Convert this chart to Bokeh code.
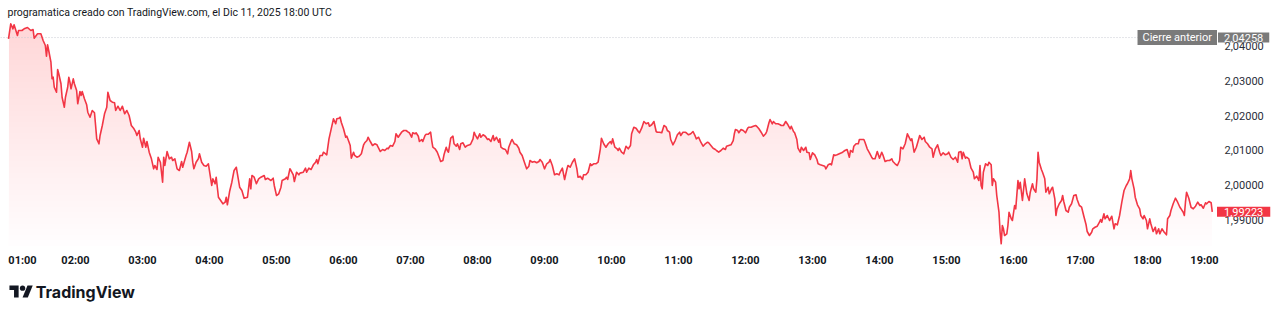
import numpy as np
from bokeh.plotting import figure
from bokeh.models import Range1d, FixedTicker, Label, CustomJSTickFormatter
from bokeh.layouts import column
from bokeh.embed import file_html
from bokeh.resources import INLINE
from bokeh.core.properties import value

# ---------------- data (minutes after 01:00, price) ----------------
seg_a_minutes = [
    0, 2, 4, 5, 8, 9, 12, 14, 17, 20,
    22, 23, 26, 29, 31, 33, 34, 35, 36, 38,
    39, 40, 41, 43, 44, 45, 47, 48, 50, 51,
    53, 54, 55, 56, 58, 59, 61, 62, 64, 65,
    66, 68, 70, 71, 73, 75, 77, 78, 79, 81,
    82, 84, 86, 88, 89, 91, 93, 95, 96, 98,
    100, 102, 104, 106, 108, 110, 112, 114, 115, 117,
    118, 120, 121, 123, 124, 126, 128, 130, 131, 133,
    134, 136, 138, 139, 140, 142, 144, 146, 147, 149,
    151, 153, 155, 156, 159, 160, 162, 164, 165, 166,
    168, 170, 171, 173, 175, 177, 179, 182, 183, 185,
    186, 188, 190, 192, 194, 195, 196, 198, 200, 202,
    204, 205, 207, 209, 211, 214, 216, 217, 218, 220,
    222, 224, 226, 229, 230, 232, 235, 237, 238, 240,
    242, 244, 245, 248, 249, 250, 252, 253, 255, 256,
    258, 260, 261]
seg_a_prices = [
    2.04222, 2.04656, 2.04511, 2.04627, 2.04318, 2.04462, 2.04462, 2.04511, 2.04549, 2.04462,
    2.04491, 2.04239, 2.04367, 2.04367, 2.04173, 2.04029, 2.03719, 2.04049, 2.03884, 2.03546,
    2.03066, 2.03112, 2.02823, 2.02679, 2.03335, 2.03211, 2.02922, 2.02534, 2.02245, 2.02534,
    2.02823, 2.03112, 2.02968, 2.02777, 2.03066, 2.02922, 2.02728, 2.02344, 2.02699, 2.02584,
    2.02699, 2.02488, 2.02315, 2.02101, 2.01956, 2.02150, 2.02084, 2.01717, 2.01332, 2.01188,
    2.01428, 2.01717, 2.02055, 2.02245, 2.02679, 2.02439, 2.02390, 2.02373, 2.02150, 2.02274,
    2.02150, 2.02274, 2.02055, 2.02150, 2.02006, 2.01717, 2.01639, 2.01523, 2.01428, 2.01572,
    2.01332, 2.01089, 2.01350, 2.01089, 2.01254, 2.00945, 2.00754, 2.00465, 2.00561, 2.00445,
    2.00800, 2.00656, 2.00078, 2.00800, 2.00561, 2.00965, 2.00754, 2.00800, 2.00705, 2.00754,
    2.00465, 2.00416, 2.00676, 2.00511, 2.00850, 2.00945, 2.01234, 2.00965, 2.00656, 2.00465,
    2.00656, 2.00754, 2.00899, 2.00656, 2.00561, 2.00540, 2.00610, 1.99983, 2.00176, 2.00032,
    2.00222, 1.99644, 1.99549, 1.99454, 1.99500, 1.99644, 1.99425, 1.99809, 2.00078, 2.00416,
    2.00511, 2.00321, 1.99933, 1.99838, 1.99616, 1.99644, 2.00176, 1.99887, 2.00272, 2.00222,
    2.00032, 2.00176, 2.00222, 2.00272, 2.00156, 2.00194, 2.00127, 2.00194, 1.99983, 1.99694,
    1.99743, 1.99933, 2.00127, 2.00176, 2.00222, 2.00156, 2.00465, 2.00416, 2.00292, 2.00098,
    2.00367, 2.00292, 2.00340]

seg_b_minutes = [
    264, 266, 267, 269, 271, 273, 275, 276, 277, 279,
    281, 282, 284, 285, 287, 289, 291, 293, 294, 296,
    297, 298, 300, 302, 303, 305, 306, 307, 309, 310,
    312, 314, 316, 318, 319, 321, 322, 324, 326, 328,
    330, 331, 333, 335, 337, 339, 340, 342, 344, 346,
    347, 349, 350, 352, 354, 356, 358, 359, 361, 362,
    364, 365, 367, 368, 370, 371, 373, 374, 376, 378,
    379, 380, 382, 384, 386, 387, 389, 390, 392, 393,
    394, 395, 396, 398, 399, 401, 402, 404, 405, 407,
    409, 411, 413, 414, 416, 417, 418, 420, 422, 423,
    425, 427, 429, 430, 432, 434, 435, 437, 439, 440,
    441, 443, 445, 447, 448, 450, 451, 453, 455, 457,
    458, 460, 462, 464, 466, 467, 469, 471, 473, 475,
    476, 478, 480, 482, 484, 485, 487, 489, 491, 493,
    494, 496, 498, 500, 501, 503, 505, 507, 509, 510,
    512, 514, 515, 517, 519, 521, 522, 524, 526, 528,
    530, 531]
seg_b_prices = [
    2.00367, 2.00483, 2.00367, 2.00483, 2.00445, 2.00581, 2.00656, 2.00734, 2.00610, 2.00850,
    2.00850, 2.00945, 2.00899, 2.00870, 2.01332, 2.01621, 2.01910, 2.01766, 2.01910, 2.01928,
    2.01956, 2.01812, 2.01621, 2.01378, 2.01407, 2.01234, 2.01139, 2.00772, 2.00945, 2.00850,
    2.00800, 2.00829, 2.00899, 2.01159, 2.01217, 2.01283, 2.01378, 2.01254, 2.01139, 2.01188,
    2.01159, 2.01089, 2.00965, 2.01023, 2.00994, 2.01061, 2.01043, 2.01139, 2.01118, 2.01254,
    2.01477, 2.01378, 2.01428, 2.01523, 2.01572, 2.01572, 2.01523, 2.01506, 2.01378, 2.01506,
    2.01477, 2.01506, 2.01407, 2.01254, 2.01312, 2.01254, 2.01428, 2.01465, 2.01465, 2.01523,
    2.01283, 2.01089, 2.01043, 2.00945, 2.00772, 2.00676, 2.00705, 2.00870, 2.01089, 2.00994,
    2.00945, 2.01139, 2.01350, 2.01407, 2.01188, 2.01118, 2.01188, 2.01023, 2.01188, 2.01217,
    2.01089, 2.01139, 2.01159, 2.01188, 2.01332, 2.01523, 2.01448, 2.01332, 2.01477, 2.01378,
    2.01448, 2.01407, 2.01312, 2.01332, 2.01254, 2.01428, 2.01283, 2.01378, 2.01234, 2.01332,
    2.01089, 2.01043, 2.01023, 2.00899, 2.01089, 2.01254, 2.01312, 2.01188, 2.01159, 2.01061,
    2.00945, 2.00850, 2.00656, 2.00465, 2.00540, 2.00705, 2.00656, 2.00676, 2.00639, 2.00676,
    2.00734, 2.00656, 2.00465, 2.00610, 2.00656, 2.00734, 2.00561, 2.00292, 2.00321, 2.00292,
    2.00367, 2.00483, 2.00156, 2.00445, 2.00561, 2.00511, 2.00656, 2.00754, 2.00465, 2.00222,
    2.00251, 2.00156, 2.00292, 2.00292, 2.00367, 2.00610, 2.00561, 2.00610, 2.00610, 2.00656,
    2.01043, 2.01350]

seg_c_minutes = [
    533, 535, 537, 539, 540, 541, 543, 545, 546, 547,
    549, 551, 553, 555, 557, 558, 560, 562, 564, 565,
    567, 569, 571, 573, 574, 576, 578, 580, 581, 583,
    585, 587, 589, 590, 592, 593, 595, 597, 599, 601,
    602, 604, 606, 607, 609, 611, 613, 615, 616, 618,
    620, 622, 624, 626, 627, 629, 631, 633, 634, 636,
    638, 640, 642, 643, 645, 647, 649, 650, 651, 653,
    654, 656, 658, 660, 662, 663, 665, 667, 669, 670,
    672, 674, 676, 678, 679, 681, 682, 684, 685, 687,
    689, 691, 692, 694, 696, 698, 700, 701, 703, 704,
    706, 707, 709, 710, 712, 714, 715, 717, 718, 720,
    722, 724, 725, 727, 729, 731, 732, 734, 736, 737,
    739, 740, 742, 744, 746, 747, 749, 751, 753, 754,
    756, 757, 759, 761, 762, 764, 766, 767, 769, 771,
    773, 774, 776, 778, 780, 782, 783, 785, 787, 789,
    791, 792, 794, 796, 798]
seg_c_prices = [
    2.01188, 2.01089, 2.01188, 2.01254, 2.01188, 2.01332, 2.01089, 2.01043, 2.00994, 2.01061,
    2.00945, 2.00899, 2.01118, 2.01043, 2.01139, 2.01477, 2.01667, 2.01639, 2.01543, 2.01506,
    2.01639, 2.01832, 2.01766, 2.01795, 2.01696, 2.01737, 2.01832, 2.01543, 2.01523, 2.01523,
    2.01506, 2.01717, 2.01667, 2.01572, 2.01523, 2.01312, 2.01159, 2.01283, 2.01448, 2.01523,
    2.01428, 2.01523, 2.01523, 2.01506, 2.01448, 2.01477, 2.01543, 2.01407, 2.01332, 2.01378,
    2.01234, 2.01118, 2.01188, 2.01234, 2.01217, 2.01139, 2.01061, 2.01023, 2.00994, 2.00945,
    2.00994, 2.01061, 2.01023, 2.01118, 2.01139, 2.01159, 2.01283, 2.01477, 2.01601, 2.01572,
    2.01506, 2.01601, 2.01572, 2.01506, 2.01639, 2.01667, 2.01667, 2.01696, 2.01717, 2.01696,
    2.01621, 2.01523, 2.01407, 2.01477, 2.01543, 2.01795, 2.01890, 2.01766, 2.01832, 2.01766,
    2.01766, 2.01737, 2.01717, 2.01717, 2.01832, 2.01737, 2.01621, 2.01696, 2.01543, 2.01506,
    2.01312, 2.01061, 2.00945, 2.01089, 2.00994, 2.01089, 2.00945, 2.00928, 2.00734, 2.00928,
    2.00870, 2.00734, 2.00610, 2.00581, 2.00561, 2.00540, 2.00465, 2.00581, 2.00610, 2.00581,
    2.00870, 2.00850, 2.00870, 2.00899, 2.00928, 2.00945, 2.00994, 2.01023, 2.00800, 2.00994,
    2.00945, 2.01118, 2.01188, 2.01188, 2.01312, 2.01312, 2.01312, 2.01234, 2.01043, 2.00928,
    2.00800, 2.00754, 2.00754, 2.00965, 2.00772, 2.00945, 2.00870, 2.00676, 2.00705, 2.00705,
    2.00754, 2.00676, 2.00610, 2.00561, 2.00705]

seg_d_minutes = [
    799, 801, 803, 805, 806, 808, 809, 811, 813, 815,
    816, 818, 820, 821, 823, 825, 827, 828, 830, 832,
    834, 835, 837, 839, 841, 842, 844, 846, 848, 850,
    851, 853, 854, 855, 857, 858, 860, 862, 864, 865,
    867, 869, 870, 871, 872, 873, 875, 877, 878, 880,
    881, 882, 884, 885, 887, 888, 889, 890, 891, 892,
    894, 895, 896, 898, 899, 901, 902, 904, 905, 906,
    908, 910, 912, 914, 915, 917, 918, 920, 921, 922,
    923, 925, 926, 928, 929, 931, 932, 934, 935, 937,
    938, 939, 941, 943, 944, 945, 947, 949, 950, 952,
    954, 956, 957, 959, 961, 963, 965, 966, 968, 970,
    971, 973, 975, 977, 978, 979, 981, 982, 984, 986,
    988, 990, 991, 993, 995, 997, 999, 1001, 1002, 1004,
    1005, 1006, 1008, 1009, 1011, 1013, 1014, 1016, 1017, 1019,
    1020, 1022, 1023, 1025, 1027, 1028, 1030, 1031, 1033, 1035,
    1037, 1038, 1040, 1041, 1043, 1045, 1047, 1049, 1050, 1052,
    1053, 1054, 1055, 1057, 1059, 1061, 1063, 1065, 1067, 1068,
    1070, 1072, 1073, 1075, 1077, 1078]
seg_d_prices = [
    2.01089, 2.01043, 2.01188, 2.01477, 2.01407, 2.01283, 2.01332, 2.00945, 2.01089, 2.01312,
    2.01428, 2.01312, 2.01378, 2.01254, 2.01188, 2.01089, 2.01043, 2.00800, 2.01043, 2.01159,
    2.00928, 2.00850, 2.00928, 2.00870, 2.00899, 2.00945, 2.00800, 2.00734, 2.00800, 2.00656,
    2.00945, 2.00965, 2.00754, 2.00945, 2.00772, 2.00800, 2.00754, 2.00483, 2.00367, 2.00176,
    2.00251, 2.00127, 2.00561, 1.99983, 1.99887, 2.00367, 2.00610, 2.00561, 2.00656, 2.00581,
    1.99983, 2.00176, 2.00078, 1.99694, 1.99211, 1.98633, 1.98298, 1.98827, 1.98731, 1.98538,
    1.98587, 1.98827, 1.99211, 1.99020, 1.98971, 1.99405, 1.99309, 2.00127, 1.99887, 2.00078,
    1.99549, 2.00176, 1.99743, 1.99549, 1.99789, 2.00032, 1.99887, 1.99789, 2.00176, 2.00945,
    2.00656, 2.00445, 2.00367, 2.00176, 1.99789, 1.99933, 1.99743, 1.99887, 1.99933, 1.99598,
    1.99116, 1.99309, 1.99454, 1.99549, 1.99694, 1.99520, 1.99260, 1.99211, 1.99355, 1.99454,
    1.99694, 1.99714, 1.99578, 1.99405, 1.99355, 1.99095, 1.98847, 1.98653, 1.98538, 1.98633,
    1.98731, 1.98777, 1.98806, 1.98922, 1.99000, 1.98922, 1.99165, 1.99020, 1.99116, 1.98971,
    1.99095, 1.98731, 1.98876, 1.98847, 1.99116, 1.99500, 1.99838, 1.99983, 2.00032, 2.00176,
    2.00416, 2.00176, 1.99887, 1.99644, 1.99425, 1.99309, 1.99116, 1.99020, 1.99116, 1.98971,
    1.98731, 1.99020, 1.98876, 1.98653, 1.98777, 1.98587, 1.98731, 1.98587, 1.98731, 1.98633,
    1.98558, 1.99020, 1.99116, 1.99260, 1.99454, 1.99616, 1.99500, 1.99355, 1.99309, 1.99211,
    1.99116, 1.99500, 1.99789, 1.99616, 1.99355, 1.99309, 1.99384, 1.99500, 1.99405, 1.99425,
    1.99327, 1.99483, 1.99454, 1.99520, 1.99483, 1.99223]

previous_close = 2.04258
hour_labels = ["01:00", "02:00", "03:00", "04:00", "05:00", "06:00", "07:00", "08:00", "09:00",
               "10:00", "11:00", "12:00", "13:00", "14:00", "15:00", "16:00", "17:00", "18:00", "19:00"]
hour_minutes = [60 * i for i in range(len(hour_labels))]
price_ticks = [1.99, 2.00, 2.01, 2.02, 2.03, 2.04]
title_text = "programatica creado con TradingView.com, el Dic 11, 2025 18:00 UTC"
prev_close_label = "Cierre anterior"


def join(ms, ps):
    n = min(len(ms), len(ps))
    if len(ms) != len(ps):
        print("length mismatch", len(ms), len(ps))
    return list(ms[:n]), list(ps[:n])


minutes, prices = [], []
for ms, ps in [(seg_a_minutes, seg_a_prices), (seg_b_minutes, seg_b_prices),
               (seg_c_minutes, seg_c_prices), (seg_d_minutes, seg_d_prices)]:
    m2, p2 = join(ms, ps)
    minutes += m2
    prices += p2
minutes = np.array(minutes, dtype=float)
prices = np.array(prices, dtype=float)
last_price = prices[-1]


def fmt_price(v):
    return f"{v:.5f}".replace(".", ",")


# ---------------- layout constants ----------------
W, H_MAIN, H_FOOT = 1280, 276, 38
FRAME_W = 1272          # pane + price scale share the frame
PANE_W = 1220           # where the time pane ends and the price scale begins
PX_PER_MIN = 67.0 / 60.0
X_START = -8.0 / PX_PER_MIN
X_END = X_START + FRAME_W / PX_PER_MIN
Y_LO, Y_HI = 1.98220, 2.04751


def px_to_min(px):
    return X_START + px / PX_PER_MIN


LINE_COLOR = "#F23645"
TEXT_COLOR = "#131722"
FONT = "Roboto"

p = figure(width=W, height=H_MAIN, output_backend="svg", toolbar_location=None,
           x_range=Range1d(X_START, X_END), y_range=Range1d(Y_LO, Y_HI),
           min_border_left=0, min_border_right=W - FRAME_W, min_border_top=20, min_border_bottom=30,
           background_fill_color="white", border_fill_color="white", outline_line_color=None)
p.grid.visible = False
p.yaxis.visible = False

p.title.text = title_text
p.title.text_font = FONT
p.title.text_font_size = "10.5px"
p.title.text_font_style = "normal"
p.title.text_color = TEXT_COLOR
p.title.offset = 7
p.title.standoff = 4

# gradient area: stacked translucent layers, stronger towards the top
n_layers = 40
levels = np.linspace(Y_LO, Y_HI, n_layers + 1)
p.varea(x=minutes, y1=Y_LO, y2=prices, fill_color=LINE_COLOR, fill_alpha=0.008)
for lv in levels[1:-1]:
    p.varea(x=minutes, y1=lv, y2=np.maximum(prices, lv), fill_color=LINE_COLOR, fill_alpha=0.0045)

# previous close dotted line across the time pane
p.segment(x0=[X_START], x1=[px_to_min(PANE_W)], y0=[previous_close], y1=[previous_close],
          line_color="#C8CBD2", line_dash="1 2", line_width=1)

p.line(minutes, prices, line_color=LINE_COLOR, line_width=1.6, line_join="round")

# x axis (time)
half_lab = 14.0 / PX_PER_MIN
tick_pos = [float(np.clip(m, X_START + 8.0 / PX_PER_MIN + half_lab,
                          px_to_min(PANE_W) - 2.0 / PX_PER_MIN - half_lab))
            for m in hour_minutes]
xa = p.xaxis[0]
xa.ticker = FixedTicker(ticks=tick_pos)
xa.formatter = CustomJSTickFormatter(args=dict(pos=tick_pos, labels=hour_labels), code="""
let best = 0, bd = Infinity;
for (let i = 0; i < pos.length; i++) { const d = Math.abs(pos[i] - tick); if (d < bd) { bd = d; best = i; } }
return labels[best];
""")
xa.axis_line_color = None
xa.major_tick_line_color = None
xa.minor_tick_line_color = None
xa.major_tick_out = 0
xa.minor_tick_out = 0
xa.major_label_text_font = FONT
xa.major_label_text_font_size = "11px"
xa.major_label_text_font_style = "bold"
xa.major_label_text_color = TEXT_COLOR
xa.major_label_standoff = 7

# price scale labels (inside the frame, right of the pane)
p.text(x=[px_to_min(1224)] * len(price_ticks), y=price_ticks,
       text=[fmt_price(v) for v in price_ticks],
       text_font=value(FONT), text_font_size="11px", text_color="#2A2E39",
       text_align="left", text_baseline="middle")

# badges
badge_kw = dict(text_baseline="middle", text_color="white", text_font=FONT, text_font_size="11px")
p.add_layout(Label(x=px_to_min(1216.5), y=previous_close, text=prev_close_label, text_align="right",
                   background_fill_color="#7A7A7A", padding=(5, 1), **badge_kw))
p.add_layout(Label(x=px_to_min(1217.5), y=previous_close, text=fmt_price(previous_close), text_align="left",
                   background_fill_color="#7A7A7A", padding=(6, 1), **badge_kw))
p.add_layout(Label(x=px_to_min(1216.5), y=last_price, text=fmt_price(last_price), text_align="left",
                   background_fill_color=LINE_COLOR, padding=(7, 1), **badge_kw))

# footer with TradingView logo
f = figure(width=W, height=H_FOOT, output_backend="svg", toolbar_location=None,
           x_range=Range1d(0, W), y_range=Range1d(H_FOOT, 0),
           min_border=0, background_fill_color="white", border_fill_color="white",
           outline_line_color=None)
f.axis.visible = False
f.grid.visible = False
s = 0.66
ox, oy = 9.0, 9.0 - 4 * s
t_shape = [(14, 22), (7, 22), (7, 11), (0, 11), (0, 4), (14, 4)]
slash_shape = [(28, 22), (20, 22), (27.5, 4), (35.5, 4)]
f.patch([ox + a * s for a, b in t_shape], [oy + b * s for a, b in t_shape], fill_color=TEXT_COLOR, line_color=None)
f.patch([ox + a * s for a, b in slash_shape], [oy + b * s for a, b in slash_shape], fill_color=TEXT_COLOR, line_color=None)
f.scatter(x=[ox + 20 * s], y=[oy + 8 * s], size=8 * s, fill_color=TEXT_COLOR, line_color=None)
f.text(x=[35.5], y=[15.5], text=["TradingView"], text_font=value("Inter"), text_font_style="bold",
       text_font_size="16px", text_baseline="middle", text_align="left", text_color=TEXT_COLOR)

layout = column(p, f, spacing=0)
open("out.html", "w").write(file_html(layout, INLINE))
